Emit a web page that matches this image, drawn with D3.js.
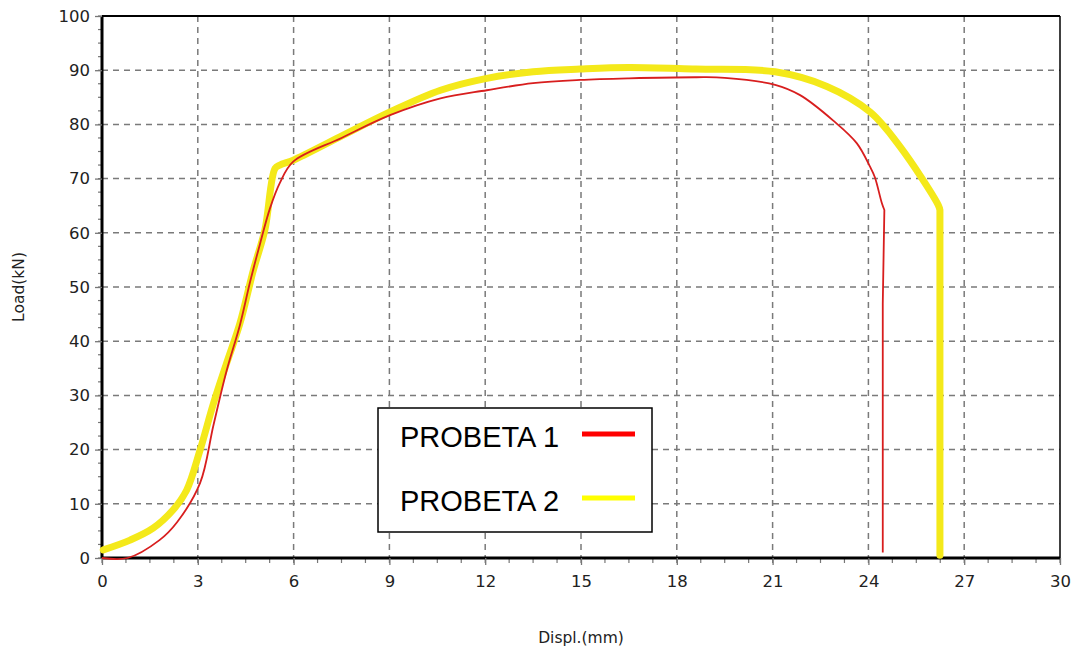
<!DOCTYPE html>
<html><head><meta charset="utf-8">
<script src="https://cdn.jsdelivr.net/npm/d3@7"></script>
<style>body{margin:0;background:#fff;} svg{display:block;font-family:"Liberation Sans",Arial,sans-serif;}</style>
</head><body>
<svg id="c" width="1078" height="650"></svg>
<script>
// Data (displacement mm, load kN)
const probeta1X = [0, 0.8, 1.8, 2.35, 3.07, 3.49, 3.9, 4.32, 4.64, 4.95, 5.26, 5.57, 5.98, 7.5, 9.02, 10.6, 12.05, 13.5, 14.97, 16.5, 18.6, 19.5, 21.08, 21.86, 22.9, 23.64, 24.05, 24.2, 24.42, 24.5, 24.45, 24.45];
const probeta1Y = [0, 0, 3.3, 6.6, 13.8, 24.5, 34.5, 43, 51, 58, 64.5, 69.2, 73.1, 77.5, 81.7, 84.8, 86.3, 87.6, 88.2, 88.5, 88.7, 88.6, 87.3, 85.4, 80.7, 76.5, 72.2, 70.3, 65.5, 64.2, 47, 1];
const probeta2X = [0.04, 0.88, 1.6, 2.23, 2.65, 3.07, 3.49, 3.9, 4.32, 4.74, 5.1, 5.42, 5.57, 5.99, 7.45, 9.02, 10.6, 12.05, 13.5, 14.97, 16.5, 18.6, 21.08, 22.7, 24.05, 24.99, 26.19, 26.24, 26.24];
const probeta2Y = [1.5, 3.3, 5.5, 8.9, 12.5, 19.9, 28.5, 35.9, 43.3, 53.1, 60.5, 71.9, 72.5, 73.4, 77.7, 82.3, 86.3, 88.5, 89.7, 90.2, 90.5, 90.2, 89.7, 87, 82.3, 75.9, 65.1, 64.2, 0.5];
const xTicks = [0, 3, 6, 9, 12, 15, 18, 21, 24, 27, 30];
const yTicks = [0, 10, 20, 30, 40, 50, 60, 70, 80, 90, 100];
const seriesNames = ["PROBETA 1", "PROBETA 2"];

const svg = d3.select("#c");
const L = 102, R = 1060, T = 16, B = 558;
const x = d3.scaleLinear().domain([0, 30]).range([L, R]);
const y = d3.scaleLinear().domain([0, 100]).range([B, T]);

// grid
const grid = svg.append("g").attr("stroke", "#7a7a7a").attr("stroke-width", 1.5).attr("stroke-dasharray", "6,5");
grid.selectAll("line.v").data(xTicks.slice(1, -1)).join("line")
  .attr("x1", d => x(d)).attr("x2", d => x(d)).attr("y1", T).attr("y2", B);
grid.selectAll("line.h").data(yTicks.slice(1, -1)).join("line")
  .attr("x1", L).attr("x2", R).attr("y1", d => y(d)).attr("y2", d => y(d));

// border top/right
svg.append("line").attr("x1", L).attr("x2", R).attr("y1", T).attr("y2", T).attr("stroke", "#000").attr("stroke-width", 2);
svg.append("line").attr("x1", R).attr("x2", R).attr("y1", T).attr("y2", B).attr("stroke", "#000").attr("stroke-width", 1.5);

// minor ticks
const minorX = d3.range(0, 30.01, 0.75);
svg.append("g").selectAll("line").data(minorX).join("line")
  .attr("x1", d => x(d)).attr("x2", d => x(d)).attr("y1", B).attr("y2", B + 5)
  .attr("stroke", "#777").attr("stroke-width", 1.2);
const minorY = d3.range(0, 100.01, 2.5);
svg.append("g").selectAll("line").data(minorY).join("line")
  .attr("x1", L - 4).attr("x2", L).attr("y1", d => y(d)).attr("y2", d => y(d))
  .attr("stroke", "#777").attr("stroke-width", 1.2);

// axes
const tickFont = "'DejaVu Sans', Verdana, sans-serif";
const xAxis = svg.append("g").attr("transform", `translate(0,${B})`)
  .call(d3.axisBottom(x).tickValues(xTicks).tickSize(7).tickPadding(10).tickFormat(d3.format("d")));
const yAxis = svg.append("g").attr("transform", `translate(${L},0)`)
  .call(d3.axisLeft(y).tickValues(yTicks).tickSize(7).tickPadding(5).tickFormat(d3.format("d")));
[xAxis, yAxis].forEach(a => {
  a.select(".domain").attr("stroke", "#000").attr("stroke-width", 3);
  a.selectAll(".tick line").attr("stroke", "#777").attr("stroke-width", 1.3);
  a.selectAll(".tick text").attr("fill", "#222").style("font-size", "16.5px").style("font-family", tickFont);
});
xAxis.select(".domain").attr("d", `M${L},0H${R}`);
yAxis.select(".domain").attr("d", `M0,${B}V${T}`);

// curves: smooth loading part + straight fracture drop
const smooth = d3.line().x(d => x(d[0])).y(d => y(d[1])).curve(d3.curveCatmullRom.alpha(0.5));
const straight = d3.line().x(d => x(d[0])).y(d => y(d[1]));
function drawSeries(xs, ys, breakIdx, color, width) {
  const pts = xs.map((v, i) => [v, ys[i]]);
  const head = pts.slice(0, breakIdx + 1), tail = pts.slice(breakIdx);
  const d = smooth(head) + straight(tail).replace(/^M/, "L");
  svg.append("path").attr("d", d).attr("fill", "none").attr("stroke", color)
    .attr("stroke-width", width).attr("stroke-linejoin", "round").attr("stroke-linecap", width > 3 ? "round" : "butt");
}
drawSeries(probeta2X, probeta2Y, 27, "#f4e91a", 7);
drawSeries(probeta1X, probeta1Y, 29, "#d81e1e", 1.8);

// axis labels
svg.append("text").attr("x", 581).attr("y", 643).attr("text-anchor", "middle")
  .style("font-size", "15.5px").style("font-family", tickFont).attr("fill", "#222").text("Displ.(mm)");
svg.append("text").attr("transform", "translate(24,287) rotate(-90)").attr("text-anchor", "middle")
  .style("font-size", "15.5px").style("font-family", tickFont).attr("fill", "#222").text("Load(kN)");

// legend
const lg = svg.append("g");
lg.append("rect").attr("x", 378).attr("y", 408).attr("width", 274).attr("height", 124)
  .attr("fill", "#fff").attr("stroke", "#000").attr("stroke-width", 1.5);
const legendColors = ["#ff0000", "#ffff00"];
seriesNames.forEach((n, i) => {
  const cy = 434 + i * 64;
  lg.append("text").attr("x", 400).attr("y", cy + 13).style("font-size", "29px").attr("fill", "#000").text(n);
  lg.append("line").attr("x1", 582).attr("x2", 635).attr("y1", cy).attr("y2", cy)
    .attr("stroke", legendColors[i]).attr("stroke-width", 5);
});
</script>
</body></html>
